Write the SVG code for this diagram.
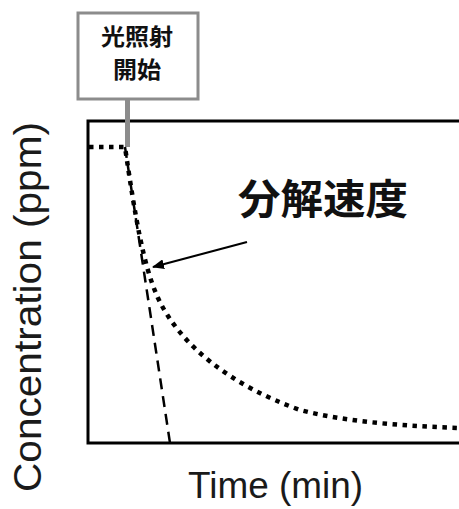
<svg xmlns="http://www.w3.org/2000/svg" width="459" height="509" viewBox="0 0 459 509">
<style>
.lbl{font-family:"Liberation Sans",Arial,sans-serif;fill:#1a1a1a}
.cjk{font-family:"Noto Sans CJK JP","Noto Sans CJK SC",sans-serif;font-weight:bold;fill:#111}
.dot{fill:none;stroke:#000;stroke-width:4.5;stroke-dasharray:4.5 5.5}
</style>
<defs>
<marker id="ah" markerWidth="12" markerHeight="10" refX="11" refY="5" orient="auto" markerUnits="userSpaceOnUse">
<path d="M0,0 L12,5 L0,10 Z" fill="#000"/>
</marker>
</defs>
<rect width="459" height="509" fill="#fff"/>
<g id="axes">
<rect x="88" y="121" width="400" height="322" fill="none" stroke="#000" stroke-width="3"/>
<text class="lbl" x="275.5" y="498" font-size="36" text-anchor="middle" textLength="175" lengthAdjust="spacingAndGlyphs">Time (min)</text>
<text class="lbl" transform="translate(41,307) rotate(-90)" font-size="38" text-anchor="middle" textLength="370" lengthAdjust="spacingAndGlyphs">Concentration (ppm)</text>
</g>
<g id="connectors">
<line x1="127.5" y1="99" x2="127.5" y2="147" stroke="#8c8c8c" stroke-width="5"/>
<line x1="125" y1="147" x2="170" y2="443" stroke="#000" stroke-width="2.5" stroke-dasharray="11 7"/>
<path class="dot" d="M89,147 L125,147 C135,215 143,265 158,298 C180,345 230,385 300,410 C350,423 410,426 459,428"/>
<line x1="247" y1="242" x2="153" y2="267" stroke="#000" stroke-width="2.2" marker-end="url(#ah)"/>
</g>
<g id="start-label">
<rect x="78" y="13" width="120" height="86" fill="#fff" stroke="#8c8c8c" stroke-width="3"/>
<text class="cjk" font-size="23" text-anchor="middle" textLength="72" lengthAdjust="spacingAndGlyphs" x="137" y="45">光照射</text>
<text class="cjk" font-size="23" text-anchor="middle" textLength="48" lengthAdjust="spacingAndGlyphs" x="137" y="78">開始</text>
</g>
<g id="rate-label">
<text class="cjk" x="238" y="214" font-size="41" textLength="170" lengthAdjust="spacingAndGlyphs">分解速度</text>
</g>
</svg>
